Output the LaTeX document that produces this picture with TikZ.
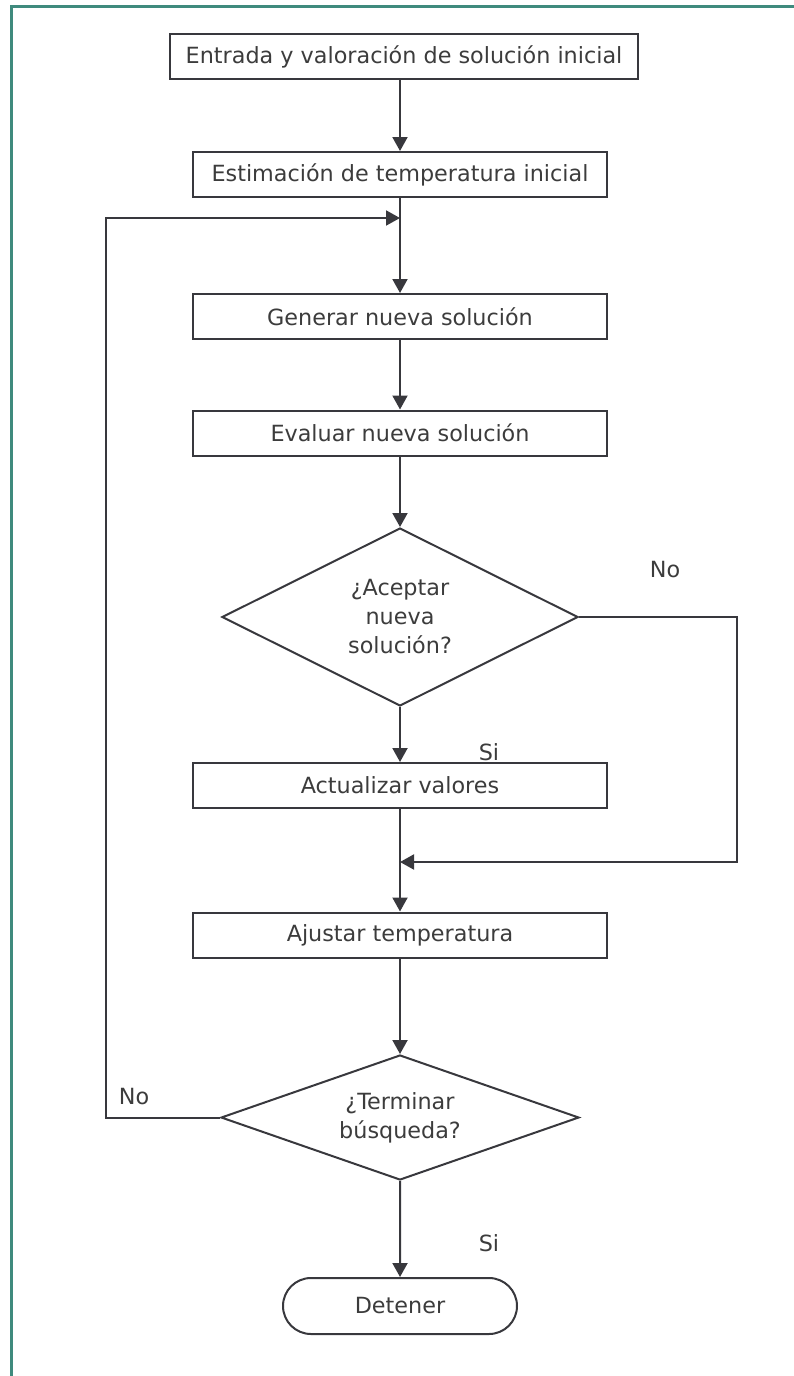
\documentclass[tikz,border=0pt]{standalone}
\usepackage{fontspec}
\setmainfont{DejaVu Sans}
\usetikzlibrary{arrows.meta,shapes.geometric,shapes.misc}
\definecolor{framec}{HTML}{3F8A7D}
\definecolor{linec}{HTML}{38383D}
\definecolor{textc}{HTML}{3C3C3C}
\begin{document}
\begin{tikzpicture}[x=1pt,y=-1pt,
  every node/.style={text=textc,font=\fontsize{22.3}{29}\selectfont},
  stepbox/.style={draw=linec,line width=2pt,rectangle,minimum width=414pt,minimum height=45pt,inner sep=0pt},
  decision/.style={draw=linec,line width=2pt,diamond,aspect=2.5,inner sep=0pt,align=center},
  endbox/.style={draw=linec,line width=2pt,rounded rectangle,minimum width=234pt,minimum height=56pt,inner sep=0pt},
  arr/.style={draw=linec,line width=2pt,-{Triangle[length=14pt,width=15pt]}},
  lbl/.style={inner sep=0pt}]
  \useasboundingbox (0,0) rectangle (794,1376);
  % outer frame
  \draw[framec,line width=2.5pt] (11.5,1380) -- (11.5,6.5) -- (800,6.5);

  % process steps
  \node[stepbox,minimum width=468pt] (b1) at (404,56.5) {Entrada y valoración de solución inicial};
  \node[stepbox] (b2) at (400,174.5) {Estimación de temperatura inicial};
  \node[stepbox] (b3) at (400,316.5) {Generar nueva solución};
  \node[stepbox] (b4) at (400,433) {Evaluar nueva solución};
  \node[decision,minimum width=356pt,minimum height=178pt] (d1) at (400,617) {¿Aceptar\\nueva\\solución?};
  \node[stepbox] (b5) at (400,785.5) {Actualizar valores};
  \node[stepbox] (b6) at (400,935) {Ajustar temperatura};
  \node[decision,minimum width=358pt,minimum height=125pt] (d2) at (400,1117.5) {¿Terminar\\búsqueda?};
  \node[endbox] (stop) at (400,1306) {Detener};

  % turning points of the side branches
  \coordinate (loopL) at (106,218);
  \coordinate (skipR) at (737,862);

  % main flow
  \draw[arr] (b1.south -| b2.north) -- (b2.north);
  \draw[arr] (b2) -- (b3);
  \draw[arr] (b3) -- (b4);
  \draw[arr] (b4) -- (d1);
  \draw[arr] (d1) -- (b5);
  \draw[arr] (b5) -- (b6);
  \draw[arr] (b6) -- (d2);
  \draw[arr] (d2) -- (stop);

  % branch: solution rejected
  \draw[arr] (d1.east) -| (skipR) -- (b5.south |- skipR);
  % branch: keep searching
  \draw[arr] (d2.west) -| (loopL) -- (b2.south |- loopL);

  % branch labels
  \node[lbl] (n1) at (665,570) {No};
  \node[lbl] (s1) at (489,752) {Si};
  \node[lbl] (n2) at (134,1097) {No};
  \node[lbl] (s2) at (489,1243) {Si};
\end{tikzpicture}
\end{document}
